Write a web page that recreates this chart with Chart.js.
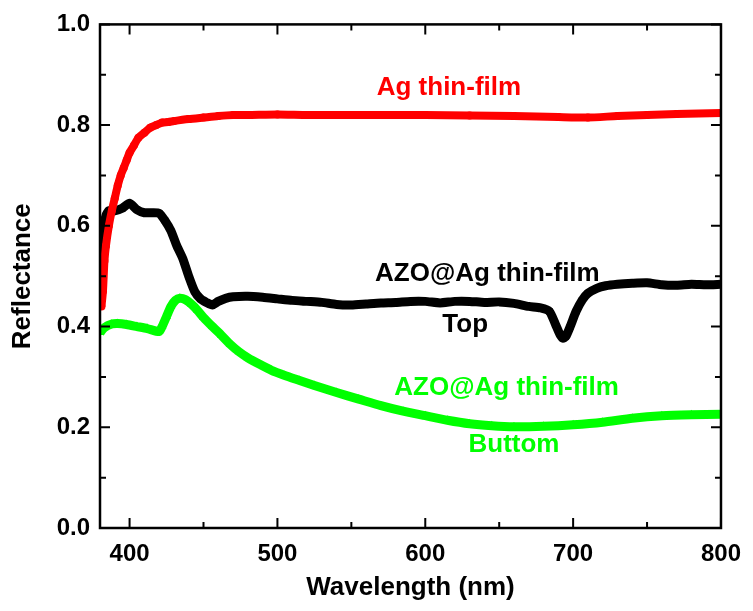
<!DOCTYPE html>
<html>
<head>
<meta charset="utf-8">
<script src="https://cdn.jsdelivr.net/npm/chart.js@4/dist/chart.umd.min.js"></script>
<style>
  html, body { margin: 0; padding: 0; background: #fff; }
  #wrap { width: 753px; height: 611px; }
</style>
</head>
<body>
<div id="wrap"><canvas id="chart"></canvas></div>
<script>
// Ag thin-film
const agX = [381, 382, 383, 384, 386, 388, 390, 392, 394, 396, 398, 400, 403, 406, 410, 414, 418, 422, 426, 430, 440, 450, 460, 470, 480, 500, 520, 550, 580, 600, 630, 660, 690, 710, 730, 750, 770, 800];
const agY = [0.44, 0.47, 0.53, 0.56, 0.60, 0.63, 0.655, 0.68, 0.70, 0.715, 0.73, 0.745, 0.76, 0.775, 0.785, 0.795, 0.80, 0.805, 0.806, 0.808, 0.812, 0.815, 0.818, 0.82, 0.82, 0.821, 0.82, 0.82, 0.82, 0.82, 0.819, 0.818, 0.816, 0.815, 0.818, 0.82, 0.822, 0.824];

// AZO@Ag thin-film, top
const topX = [380, 381, 382, 384, 386, 390, 395, 400, 405, 410, 415, 420, 424, 428, 432, 436, 440, 444, 448, 452, 456, 460, 465, 470, 480, 490, 500, 510, 520, 530, 540, 550, 560, 570, 580, 590, 600, 610, 620, 630, 640, 650, 660, 670, 678, 684, 688, 691, 693, 695, 698, 702, 706, 710, 716, 722, 730, 740, 750, 760, 770, 780, 790, 800];
const topY = [0.5, 0.56, 0.59, 0.62, 0.63, 0.63, 0.635, 0.645, 0.632, 0.626, 0.626, 0.625, 0.61, 0.59, 0.56, 0.535, 0.5, 0.47, 0.455, 0.448, 0.443, 0.45, 0.456, 0.459, 0.46, 0.458, 0.455, 0.452, 0.45, 0.448, 0.444, 0.443, 0.445, 0.447, 0.448, 0.45, 0.45, 0.447, 0.45, 0.45, 0.448, 0.449, 0.446, 0.44, 0.437, 0.43, 0.405, 0.385, 0.377, 0.38, 0.4, 0.43, 0.452, 0.466, 0.476, 0.481, 0.484, 0.486, 0.487, 0.483, 0.482, 0.484, 0.483, 0.484];

// AZO@Ag thin-film, bottom
const botX = [380, 383, 388, 392, 398, 405, 412, 420, 422, 425, 428, 431, 434, 438, 442, 446, 450, 456, 462, 468, 474, 480, 488, 496, 505, 515, 525, 540, 555, 570, 585, 600, 615, 630, 645, 660, 680, 700, 720, 740, 760, 780, 800];
const botY = [0.388, 0.398, 0.405, 0.406, 0.404, 0.4, 0.396, 0.39, 0.4, 0.42, 0.44, 0.452, 0.456, 0.453, 0.444, 0.432, 0.418, 0.4, 0.383, 0.365, 0.35, 0.338, 0.325, 0.313, 0.303, 0.293, 0.283, 0.269, 0.256, 0.243, 0.232, 0.223, 0.214, 0.207, 0.203, 0.201, 0.202, 0.205, 0.21, 0.218, 0.223, 0.225, 0.226];

const xMajor = [400, 500, 600, 700, 800];
const xMinor = [450, 550, 650, 750];
const yMajor = [0, 0.2, 0.4, 0.6, 0.8, 1.0];
const yMinor = [0.1, 0.3, 0.5, 0.7, 0.9];

// text labels placed in data coordinates
const labels = [
  { text: 'Ag thin-film', x: 616, y: 0.874, color: '#ff0000' },
  { text: 'AZO@Ag thin-film', x: 642, y: 0.504, color: '#000000' },
  { text: 'Top', x: 627, y: 0.404, color: '#000000' },
  { text: 'AZO@Ag thin-film', x: 655, y: 0.278, color: '#00ff00' },
  { text: 'Buttom', x: 660, y: 0.165, color: '#00ff00' }
];

const FONT = '"Liberation Sans", Arial, sans-serif';

function pts(xs, ys) {
  return xs.map((x, i) => ({ x: x, y: ys[i] }));
}

const frame = {
  id: 'frame',
  afterDraw(chart) {
    const ctx = chart.ctx;
    const a = chart.chartArea;
    const sx = chart.scales.x, sy = chart.scales.y;
    ctx.save();
    ctx.strokeStyle = '#000';
    ctx.lineWidth = 2.5;
    ctx.strokeRect(a.left, a.top, a.right - a.left, a.bottom - a.top);
    ctx.lineWidth = 2;
    ctx.beginPath();
    const tickX = (v, len) => {
      const px = sx.getPixelForValue(v);
      ctx.moveTo(px, a.bottom); ctx.lineTo(px, a.bottom - len);
      ctx.moveTo(px, a.top); ctx.lineTo(px, a.top + len);
    };
    const tickY = (v, len) => {
      const py = sy.getPixelForValue(v);
      ctx.moveTo(a.left, py); ctx.lineTo(a.left + len, py);
      ctx.moveTo(a.right, py); ctx.lineTo(a.right - len, py);
    };
    xMajor.forEach(v => tickX(v, 10));
    xMinor.forEach(v => tickX(v, 6));
    yMajor.forEach(v => tickY(v, 10));
    yMinor.forEach(v => tickY(v, 6));
    ctx.stroke();

    ctx.font = 'bold 26px ' + FONT;
    ctx.textAlign = 'center';
    ctx.textBaseline = 'middle';
    labels.forEach(l => {
      ctx.fillStyle = l.color;
      ctx.fillText(l.text, sx.getPixelForValue(l.x), sy.getPixelForValue(l.y));
    });
    ctx.restore();
  }
};

new Chart(document.getElementById('chart'), {
  type: 'line',
  data: {
    datasets: [{
      label: 'Ag thin-film',
      data: pts(agX, agY),
      borderColor: '#ff0000',
      backgroundColor: '#ff0000',
      borderWidth: 8,
      pointStyle: 'circle',
      pointRadius: 4,
      pointBorderWidth: 0,
      tension: 0.2
    }, {
      label: 'AZO@Ag thin-film Top',
      data: pts(topX, topY),
      borderColor: '#000000',
      backgroundColor: '#000000',
      borderWidth: 9,
      pointStyle: 'rect',
      pointRadius: 4.5,
      pointBorderWidth: 0,
      tension: 0.2
    }, {
      label: 'AZO@Ag thin-film Buttom',
      data: pts(botX, botY),
      borderColor: '#00ff00',
      backgroundColor: '#00ff00',
      borderWidth: 9,
      pointStyle: 'triangle',
      pointRadius: 5,
      pointBorderWidth: 0,
      tension: 0.2
    }]
  },
  options: {
    responsive: true,
    maintainAspectRatio: false,
    animation: false,
    layout: { padding: { top: 21, right: 29, left: 0, bottom: 0 } },
    plugins: { legend: { display: false }, tooltip: { enabled: false } },
    scales: {
      x: {
        type: 'linear',
        min: 380,
        max: 800,
        afterBuildTicks: s => { s.ticks = xMajor.map(v => ({ value: v })); },
        afterFit: s => { s.height = 83; },
        grid: { display: false, drawTicks: false },
        border: { display: false },
        ticks: {
          color: '#000',
          padding: 12,
          maxRotation: 0,
          font: { family: FONT, size: 24, weight: 'bold' }
        },
        title: {
          display: true,
          text: 'Wavelength (nm)',
          color: '#000',
          padding: { top: 0, bottom: 8 },
          font: { family: FONT, size: 26, weight: 'bold' }
        }
      },
      y: {
        min: 0,
        max: 1,
        afterBuildTicks: s => { s.ticks = yMajor.map(v => ({ value: v })); },
        afterFit: s => { s.width = 100; },
        grid: { display: false, drawTicks: false },
        border: { display: false },
        ticks: {
          color: '#000',
          padding: 10,
          callback: v => v.toFixed(1),
          font: { family: FONT, size: 24, weight: 'bold' }
        },
        title: {
          display: true,
          text: 'Reflectance',
          color: '#000',
          padding: { top: 7, bottom: 0 },
          font: { family: FONT, size: 26, weight: 'bold' }
        }
      }
    }
  },
  plugins: [frame]
});
</script>
</body>
</html>
